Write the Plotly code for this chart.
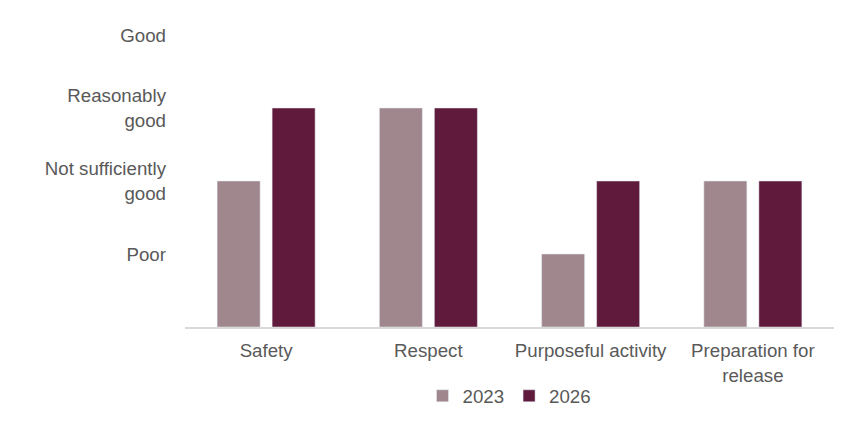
import plotly.graph_objects as go

categories = ["Safety", "Respect", "Purposeful activity", "Preparation for<br>release"]
scores_2023 = [2, 3, 1, 2]
scores_2026 = [3, 3, 2, 2]
level_values = [1, 2, 3, 4]
level_labels = ["Poor", "Not sufficiently<br>good", "Reasonably<br>good", "Good"]

TEXT = "#595959"
FONT = "Liberation Sans, Arial, sans-serif"
FSIZE = 18.7

fig = go.Figure()
fig.add_trace(go.Bar(x=categories, y=scores_2023, name="2023", marker_color="#A0878E"))
fig.add_trace(go.Bar(x=categories, y=scores_2026, name="2026", marker_color="#5F1A3C"))

# page body adds an 8px margin, so the figure is drawn 16px smaller than the window
fig.update_layout(
    width=838,
    height=406,
    barmode="group",
    bargap=0.322,
    bargroupgap=0.218,
    plot_bgcolor="white",
    paper_bgcolor="white",
    font=dict(family=FONT, size=FSIZE, color=TEXT),
    margin=dict(l=177, r=12, t=27, b=87, autoexpand=False),
    legend=dict(
        orientation="h", x=0.5, xanchor="center",
        yref="container", y=0.044, yanchor="middle",
        font=dict(size=FSIZE, color=TEXT), traceorder="normal",
    ),
)
fig.update_xaxes(
    showline=True, linecolor="#D9D9D9", linewidth=2,
    showgrid=False, ticks="", ticklabelstandoff=6, automargin=False,
    tickfont=dict(size=FSIZE, color=TEXT),
)
fig.update_yaxes(
    range=[0, 4], tickmode="array", tickvals=level_values, ticktext=level_labels,
    showgrid=False, showline=False, zeroline=False, ticks="", automargin=False,
    ticklabelstandoff=18, tickfont=dict(size=FSIZE, color=TEXT),
)

fig.write_html("out.html")
